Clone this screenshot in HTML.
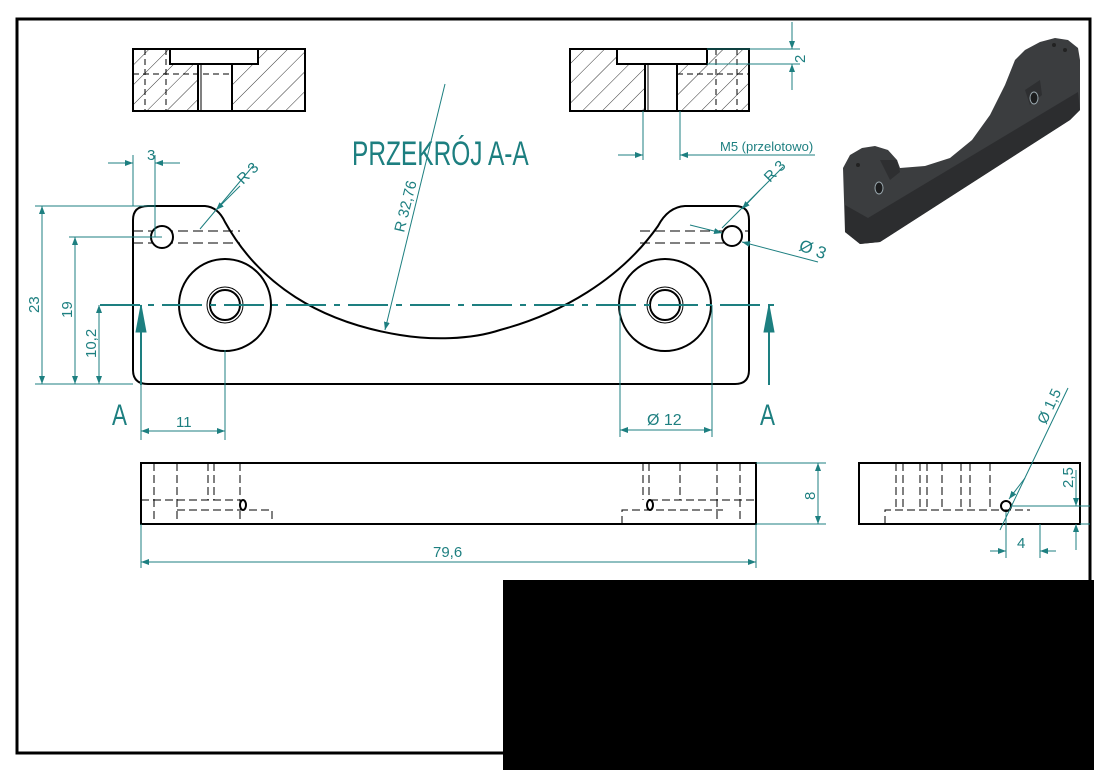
<!DOCTYPE html>
<html><head><meta charset="utf-8"><style>
body{margin:0;background:#fff;width:1094px;height:770px;overflow:hidden}
svg{display:block}
text{font-family:"Liberation Sans",sans-serif;fill:#1d7f80}
</style></head><body>
<svg width="1094" height="770" viewBox="0 0 1094 770" xmlns="http://www.w3.org/2000/svg">
<defs>
<pattern id="h" width="14" height="14" patternUnits="userSpaceOnUse" patternTransform="rotate(45)"><line x1="0" y1="0" x2="0" y2="14" stroke="#000" stroke-width="0.8"/></pattern>
<marker id="ar" markerWidth="8" markerHeight="6" refX="8" refY="3" orient="auto"><path d="M0,0 L8,3 L0,6z" fill="#1d7f80"/></marker>
</defs>
<rect x="17" y="19" width="1073" height="734" fill="none" stroke="#000" stroke-width="3"/>

<!-- top-left section -->
<rect x="133" y="49" width="172" height="62" fill="url(#h)" stroke="#000" stroke-width="2"/>
<rect x="170" y="49" width="88" height="15" fill="#fff" stroke="#000" stroke-width="2"/>
<rect x="198" y="64" width="34" height="47" fill="#fff" stroke="#000" stroke-width="2"/>
<line x1="201" y1="64" x2="201" y2="111" stroke="#000"/>
<g stroke="#000" stroke-dasharray="6,4" fill="none"><line x1="145" y1="49" x2="145" y2="111"/><line x1="166" y1="49" x2="166" y2="111"/><line x1="133" y1="74" x2="232" y2="74"/></g>

<!-- top-right section -->
<rect x="570" y="49" width="179" height="62" fill="url(#h)" stroke="#000" stroke-width="2"/>
<rect x="617" y="49" width="90" height="15" fill="#fff" stroke="#000" stroke-width="2"/>
<rect x="645" y="64" width="32" height="47" fill="#fff" stroke="#000" stroke-width="2"/>
<line x1="648" y1="64" x2="648" y2="111" stroke="#000"/>
<g stroke="#000" stroke-dasharray="6,4" fill="none"><line x1="716" y1="49" x2="716" y2="111"/><line x1="737" y1="49" x2="737" y2="111"/><line x1="677" y1="74" x2="749" y2="74"/></g>

<g stroke="#1d7f80" stroke-width="1" fill="none">
<line x1="707" y1="49" x2="800" y2="49"/><line x1="707" y1="64" x2="800" y2="64"/>
<line x1="792" y1="22" x2="792" y2="49" marker-end="url(#ar)"/><line x1="792" y1="90" x2="792" y2="64" marker-end="url(#ar)"/>
<line x1="643" y1="111" x2="643" y2="160"/><line x1="680" y1="111" x2="680" y2="160"/>
<line x1="618" y1="155" x2="643" y2="155" marker-end="url(#ar)"/><line x1="815" y1="155" x2="680" y2="155" marker-end="url(#ar)"/>
</g>
<text x="0" y="0" font-size="15" transform="translate(805 63) rotate(-90)">2</text>
<text x="720" y="151" font-size="13">M5 (przelotowo)</text>

<text x="0" y="0" font-size="34" transform="translate(352 165) scale(0.72 1)">PRZEKRÓJ  A-A</text>

<!-- main view -->
<path d="M148 206 L205 206 Q218 207 225 222 C260 285 320 322 400 335 C430 340 470 340 500 330 C560 314 620 280 658 226 Q668 207 685 206 L735 206 Q749 206 749 220 L749 370 Q749 384 735 384 L148 384 Q133 384 133 370 L133 220 Q133 206 148 206 Z" fill="none" stroke="#000" stroke-width="2"/>
<g stroke="#000" stroke-dasharray="10,5" fill="none"><line x1="133" y1="231" x2="240" y2="231"/><line x1="133" y1="243" x2="240" y2="243"/><line x1="640" y1="231" x2="749" y2="231"/><line x1="640" y1="243" x2="749" y2="243"/></g>
<g fill="#fff" stroke="#000" stroke-width="2">
<circle cx="162" cy="237" r="11"/><circle cx="732" cy="236" r="10"/>
<circle cx="225" cy="305" r="46"/><circle cx="225" cy="305" r="15"/>
<circle cx="665" cy="305" r="46"/><circle cx="665" cy="305" r="15"/>
</g>
<circle cx="225" cy="305" r="18" fill="none" stroke="#000"/><circle cx="665" cy="305" r="18" fill="none" stroke="#000"/>
<line x1="100" y1="305" x2="775" y2="305" stroke="#1d7f80" stroke-width="2" stroke-dasharray="40,8,6,8"/>

<g stroke="#1d7f80" stroke-width="1" fill="none">
<line x1="141" y1="385" x2="141" y2="305" stroke-width="2"/><path d="M136 332 L141 305 L146 332z" fill="#1d7f80"/>
<line x1="769" y1="385" x2="769" y2="305" stroke-width="2"/><path d="M764 332 L769 305 L774 332z" fill="#1d7f80"/>
<line x1="35" y1="206" x2="155" y2="206"/><line x1="35" y1="384" x2="133" y2="384"/>
<line x1="42" y1="295" x2="42" y2="206" marker-end="url(#ar)"/><line x1="42" y1="295" x2="42" y2="384" marker-end="url(#ar)"/>
<line x1="69" y1="237" x2="162" y2="237"/>
<line x1="75" y1="310" x2="75" y2="237" marker-end="url(#ar)"/><line x1="75" y1="310" x2="75" y2="384" marker-end="url(#ar)"/>
<line x1="99" y1="345" x2="99" y2="305" marker-end="url(#ar)"/><line x1="99" y1="345" x2="99" y2="384" marker-end="url(#ar)"/>
<line x1="133" y1="155" x2="133" y2="206"/><line x1="155" y1="155" x2="155" y2="237"/>
<line x1="108" y1="163" x2="133" y2="163" marker-end="url(#ar)"/><line x1="180" y1="163" x2="155" y2="163" marker-end="url(#ar)"/>
<line x1="200" y1="229" x2="253" y2="166"/><line x1="240" y1="186" x2="216" y2="210" marker-end="url(#ar)"/>
<line x1="445" y1="84" x2="385" y2="330" marker-end="url(#ar)"/>
<line x1="722" y1="228" x2="783" y2="167"/><line x1="760" y1="190" x2="742" y2="209" marker-end="url(#ar)"/>
<line x1="690" y1="225" x2="722" y2="233" marker-end="url(#ar)"/><line x1="818" y1="262" x2="742" y2="242" marker-end="url(#ar)"/>
<line x1="141" y1="384" x2="141" y2="440"/><line x1="225" y1="350" x2="225" y2="440"/>
<line x1="180" y1="431" x2="141" y2="431" marker-end="url(#ar)"/><line x1="180" y1="431" x2="225" y2="431" marker-end="url(#ar)"/>
<line x1="620" y1="305" x2="620" y2="437"/><line x1="712" y1="305" x2="712" y2="437"/>
<line x1="665" y1="430" x2="620" y2="430" marker-end="url(#ar)"/><line x1="665" y1="430" x2="712" y2="430" marker-end="url(#ar)"/>
</g>
<text x="0" y="0" font-size="15" transform="translate(39 313) rotate(-90)">23</text>
<text x="0" y="0" font-size="15" transform="translate(72 318) rotate(-90)">19</text>
<text x="0" y="0" font-size="15" transform="translate(96 358) rotate(-90)">10,2</text>
<text x="147" y="160" font-size="15">3</text>
<text x="0" y="0" font-size="15" transform="translate(243 185) rotate(-45)">R 3</text>
<text x="0" y="0" font-size="15" transform="translate(404 233) rotate(-76)">R 32,76</text>
<text x="0" y="0" font-size="15" transform="translate(770 183) rotate(-45)">R 3</text>
<text x="0" y="0" font-size="17" transform="translate(798 250) rotate(20)">Ø 3</text>
<text x="176" y="427" font-size="15">11</text>
<text x="647" y="425" font-size="16">Ø 12</text>
<text x="0" y="0" font-size="30" transform="translate(112 425) scale(0.75 1)">A</text>
<text x="0" y="0" font-size="30" transform="translate(760 425) scale(0.75 1)">A</text>

<!-- front view -->
<rect x="141" y="463" width="615" height="61" fill="none" stroke="#000" stroke-width="2"/>
<g stroke="#000" stroke-dasharray="8,4" fill="none" stroke-width="1">
<line x1="154" y1="463" x2="154" y2="524"/><line x1="177" y1="463" x2="177" y2="524"/><line x1="208" y1="463" x2="208" y2="500"/><line x1="214" y1="463" x2="214" y2="500"/><line x1="240" y1="463" x2="240" y2="524"/>
<path d="M141 500 L240 500 M177 510 L272 510 L272 524"/>
<line x1="643" y1="463" x2="643" y2="500"/><line x1="649" y1="463" x2="649" y2="500"/><line x1="680" y1="463" x2="680" y2="500"/><line x1="717" y1="463" x2="717" y2="524"/><line x1="740" y1="463" x2="740" y2="524"/>
<path d="M650 500 L756 500 M622 524 L622 510 L723 510"/>
<line x1="896" y1="463" x2="896" y2="510"/><line x1="903" y1="463" x2="903" y2="510"/><line x1="920" y1="463" x2="920" y2="510"/><line x1="927" y1="463" x2="927" y2="510"/><line x1="942" y1="463" x2="942" y2="510"/><line x1="961" y1="463" x2="961" y2="510"/><line x1="970" y1="463" x2="970" y2="510"/><line x1="990" y1="463" x2="990" y2="510"/>
<path d="M885 524 L885 510 L1030 510"/>
</g>
<ellipse cx="243" cy="505" rx="3" ry="5" fill="none" stroke="#000" stroke-width="2"/>
<ellipse cx="650" cy="505" rx="3" ry="5" fill="none" stroke="#000" stroke-width="2"/>
<rect x="859" y="463" width="221" height="61" fill="none" stroke="#000" stroke-width="2"/>
<circle cx="1006" cy="506" r="5" fill="none" stroke="#000" stroke-width="2"/>

<g stroke="#1d7f80" stroke-width="1" fill="none">
<line x1="756" y1="463" x2="826" y2="463"/><line x1="756" y1="524" x2="826" y2="524"/>
<line x1="818" y1="493" x2="818" y2="463" marker-end="url(#ar)"/><line x1="818" y1="493" x2="818" y2="524" marker-end="url(#ar)"/>
<line x1="141" y1="524" x2="141" y2="568"/><line x1="756" y1="524" x2="756" y2="568"/>
<line x1="450" y1="562" x2="141" y2="562" marker-end="url(#ar)"/><line x1="450" y1="562" x2="756" y2="562" marker-end="url(#ar)"/>
<line x1="1068" y1="388" x2="1000" y2="530"/><line x1="1025" y1="478" x2="1009" y2="499" marker-end="url(#ar)"/>
<line x1="1012" y1="506" x2="1090" y2="506"/><line x1="1080" y1="524" x2="1090" y2="524"/>
<line x1="1076" y1="470" x2="1076" y2="506" marker-end="url(#ar)"/><line x1="1076" y1="550" x2="1076" y2="524" marker-end="url(#ar)"/>
<line x1="1006" y1="512" x2="1006" y2="558"/><line x1="1040" y1="524" x2="1040" y2="558"/>
<line x1="990" y1="551" x2="1006" y2="551" marker-end="url(#ar)"/><line x1="1056" y1="551" x2="1040" y2="551" marker-end="url(#ar)"/>
</g>
<text x="0" y="0" font-size="15" transform="translate(815 500) rotate(-90)">8</text>
<text x="433" y="557" font-size="15">79,6</text>
<text x="0" y="0" font-size="15" transform="translate(1073 488) rotate(-90)">2,5</text>
<text x="1017" y="548" font-size="15">4</text>
<text x="0" y="0" font-size="15" transform="translate(1046 425) rotate(-65)">Ø 1,5</text>

<!-- 3D part -->
<path d="M843 168 L850 155 L862 148 L875 146 L888 150 L897 160 L900 168 L925 166 L950 158 L972 140 L990 115 L1005 85 L1015 60 L1025 50 L1040 42 L1055 38 L1068 40 L1078 48 L1080 60 L1080 110 L1070 120 L880 242 L860 244 L845 232 Z" fill="#3b3d3f"/>
<path d="M845 205 L868 218 L1078 92 L1080 110 L1070 120 L880 242 L860 244 L845 232 Z" fill="#2c2d2f"/>
<path d="M880 160 L897 160 L900 172 L890 180 Z" fill="#2e2f31"/>
<path d="M1025 90 L1040 80 L1042 95 L1030 105 Z" fill="#2e2f31"/>
<ellipse cx="879" cy="188" rx="4" ry="6" fill="#1c1d1e" stroke="#9aa8ae"/>
<ellipse cx="1034" cy="98" rx="4" ry="6" fill="#1c1d1e" stroke="#9aa8ae"/>
<circle cx="858" cy="165" r="2" fill="#222"/><circle cx="1054" cy="45" r="2" fill="#222"/><circle cx="1065" cy="50" r="2" fill="#222"/>

<rect x="503" y="580" width="591" height="190" fill="#000"/>
</svg>
</body></html>
